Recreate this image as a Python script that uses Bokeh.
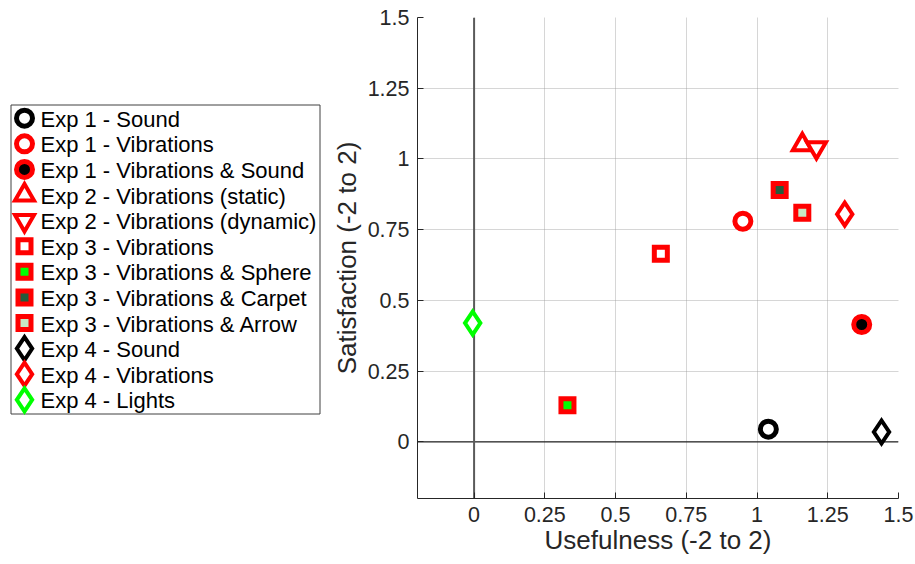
from bokeh.plotting import figure
from bokeh.models import Range1d, FixedTicker, Span, ColumnDataSource
from bokeh.core.properties import value
from bokeh.embed import file_html
from bokeh.resources import INLINE

# ---- data ----
labels = [
    "Exp 1 - Sound",
    "Exp 1 - Vibrations",
    "Exp 1 - Vibrations & Sound",
    "Exp 2 - Vibrations (static)",
    "Exp 2 - Vibrations (dynamic)",
    "Exp 3 - Vibrations",
    "Exp 3 - Vibrations & Sphere",
    "Exp 3 - Vibrations & Carpet",
    "Exp 3 - Vibrations & Arrow",
    "Exp 4 - Sound",
    "Exp 4 - Vibrations",
    "Exp 4 - Lights",
]
usefulness = [1.04, 0.95, 1.37, 1.16, 1.21, 0.66, 0.33, 1.08, 1.16, 1.44, 1.31, -0.005]
satisfaction = [0.045, 0.78, 0.415, 1.05, 1.04, 0.665, 0.13, 0.89, 0.81, 0.035, 0.805, 0.42]

tick_values = [0, 0.25, 0.5, 0.75, 1, 1.25, 1.5]
tick_labels = ["0", "0.25", "0.5", "0.75", "1", "1.25", "1.5"]
x_label = "Usefulness (-2 to 2)"
y_label = "Satisfaction (-2 to 2)"

# ---- styles ----
markers = ["circle", "circle", "circle", "triangle", "inverted_triangle",
           "square", "square", "square", "square", "diamond", "diamond", "diamond"]
line_colors = ["#000000", "#ff0000", "#ff0000", "#ff0000", "#ff0000", "#ff0000",
               "#ff0000", "#ff0000", "#ff0000", "#000000", "#ff0000", "#00ff00"]
fill_colors = ["#ffffff", "#ffffff", "#000000", "#ffffff", "#ffffff", "#ffffff",
               "#00ff00", "#245c3c", "#c8e8c4", "#ffffff", "#ffffff", "#ffffff"]
size_by_marker = {"circle": 16, "triangle": 19, "inverted_triangle": 19, "square": 13, "diamond": 23}
lw_by_marker = {"circle": 5, "triangle": 4, "inverted_triangle": 4, "square": 5, "diamond": 4}
sizes = [size_by_marker[m] for m in markers]
lws = [lw_by_marker[m] for m in markers]

FONT = "Liberation Sans"
TXT = "#262626"

# ---- layout (canvas pixels) ----
W, H = 914, 563
FX0, FX1 = 417, 898      # frame left / right
FY0, FY1 = 17, 498       # frame top / bottom
ML, MR, MT, MB = FX0, W - FX1, FY0, H - FY1

p = figure(width=W, height=H, x_range=Range1d(-0.2, 1.5), y_range=Range1d(-0.2, 1.5),
           output_backend="svg", toolbar_location=None,
           min_border_left=ML, min_border_right=MR, min_border_top=MT, min_border_bottom=MB)
p.outline_line_color = None
p.background_fill_color = "white"
p.border_fill_color = "white"

for ax in (p.xaxis, p.yaxis):
    ax.ticker = FixedTicker(ticks=tick_values)
    ax.major_label_overrides = {float(v): s for v, s in zip(tick_values, tick_labels)}
    ax.major_label_text_font = FONT
    ax.major_label_text_font_size = "21.5px"
    ax.major_label_text_color = TXT
    ax.axis_label_text_font = FONT
    ax.axis_label_text_font_size = "26px"
    ax.axis_label_text_font_style = "normal"
    ax.axis_label_text_color = TXT
    ax.axis_line_color = TXT
    ax.axis_line_width = 1
    ax.major_tick_in = 6
    ax.major_tick_out = 0
    ax.major_tick_line_color = TXT
    ax.minor_tick_line_color = None
p.xaxis.major_label_standoff = 8
p.xaxis.axis_label_standoff = 0
p.yaxis.major_label_standoff = 8
p.yaxis.axis_label_standoff = 3
p.xaxis.axis_label = x_label
p.yaxis.axis_label = y_label

p.grid.grid_line_color = "#9a9a9a"
p.grid.grid_line_dash = "1 1"
p.grid.grid_line_alpha = 0.8

p.add_layout(Span(location=0, dimension="width", line_color="#262626", line_width=1.2, level="underlay"))
p.add_layout(Span(location=0, dimension="height", line_color="#5a5a5a", line_width=2, level="underlay"))

src = ColumnDataSource(dict(x=usefulness, y=satisfaction, marker=markers, lc=line_colors,
                            fc=fill_colors, size=sizes, lw=lws))
p.scatter(x="x", y="y", marker="marker", size="size", line_color="lc", fill_color="fc",
          line_width="lw", line_join="miter", source=src)

# ---- legend drawn in canvas-pixel coordinates (extra ranges) ----
p.extra_x_ranges = {"px": Range1d(FX0, FX1)}
p.extra_y_ranges = {"py": Range1d(FY1, FY0)}

p.quad(left=10.5, right=319.5, top=104.5, bottom=413.5, fill_color="white",
       line_color="#404040", line_width=1, x_range_name="px", y_range_name="py", level="annotation")

n = len(labels)
row_y = [117.7 + i * 25.6 for i in range(n)]
# symbols; the final, fully transparent entry only widens the marker culling box
# so that the legend symbols outside the plot frame are drawn
sym = ColumnDataSource(dict(
    x=[24.0] * n + [165.0], y=row_y + [260.0],
    marker=markers + ["circle"], lc=line_colors + ["#ffffff"], fc=fill_colors + ["#ffffff"],
    size=sizes + [1400], lw=lws + [0], alpha=[1.0] * n + [0.0]))
p.scatter(x="x", y="y", marker="marker", size="size", line_color="lc", fill_color="fc",
          line_width="lw", line_alpha="alpha", fill_alpha="alpha", line_join="miter", source=sym,
          x_range_name="px", y_range_name="py", level="annotation")

txt = ColumnDataSource(dict(x=[40.0] * n, y=[yy + 1 for yy in row_y], label=labels))
p.text(x="x", y="y", text="label", text_font=value(FONT), text_font_size=value("22px"),
       text_color="#000000", text_baseline="middle", text_align="left", source=txt,
       x_range_name="px", y_range_name="py", level="annotation")

open("out.html", "w").write(file_html(p, INLINE))
